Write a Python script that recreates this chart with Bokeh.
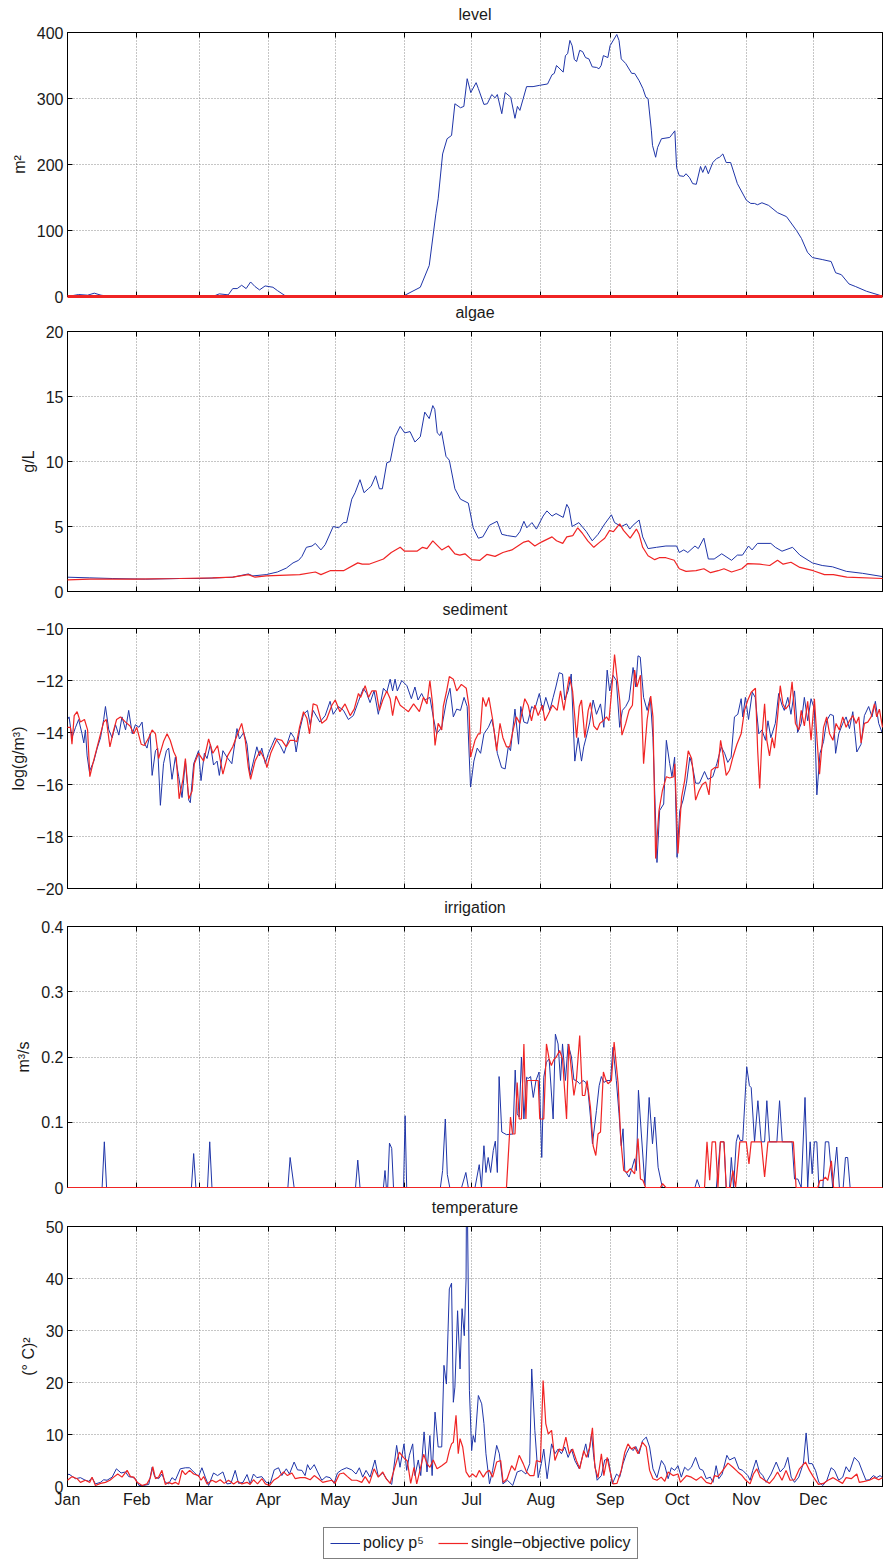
from bokeh.plotting import figure
from bokeh.layouts import column
from bokeh.models import Range1d, FixedTicker, LinearAxis, Legend, LegendItem
from bokeh.embed import file_html
from bokeh.resources import INLINE

# ---------------- data ----------------
MONTH_DAYS = [0, 31, 59, 90, 120, 151, 181, 212, 243, 273, 304, 334]
MONTH_LABELS = ["Jan", "Feb", "Mar", "Apr", "May", "Jun", "Jul", "Aug", "Sep", "Oct", "Nov", "Dec"]

LEVEL_TICKS = [0, 100, 200, 300, 400]
LEVEL_TICK_LABELS = ["0", "100", "200", "300", "400"]
ALGAE_TICKS = [0, 5, 10, 15, 20]
ALGAE_TICK_LABELS = ["0", "5", "10", "15", "20"]
SED_TICKS = [-20, -18, -16, -14, -12, -10]
SED_TICK_LABELS = ["\u221220", "\u221218", "\u221216", "\u221214", "\u221212", "\u221210"]
IRR_TICKS = [0, 0.1, 0.2, 0.3, 0.4]
IRR_TICK_LABELS = ["0", "0.1", "0.2", "0.3", "0.4"]
TEMP_TICKS = [0, 10, 20, 30, 40, 50]
TEMP_TICK_LABELS = ["0", "10", "20", "30", "40", "50"]

# (day of year, value)
LEVEL_BLUE = [(0,0),(5,3),(9,2),(12,5),(15,2),(19,0),(65,0),(68,4),(72,2.5),(74,12),(76,12),(78,17),(80,12),(82,22),
    (84,15),(86,10),(88.5,16),(92,14),(94,9),(98,0),(150,0),(158,14),(162,47),(165,126),(166,148),(168,216),(170,239),
    (172,244),(173.5,292),(176,286),(177.5,288),(179,330),(180.6,309),(183,324),(184,315),(186.5,291),(188,292),(190,306),
    (191.5,301),(192.5,306),(194.5,277),(196,309),(198.5,302),(200.4,270),(201.5,288),(202.6,282),(205.6,318),(208.5,318),
    (211.5,320),(215,322),(217,336),(218,338),(219,350),(222,340),(223,365),(224,368),(225,388),(226,380),(227,359),
    (228,356),(229.4,373),(230.7,371),(232,362),(233.5,360),(235,348),(237,347),(238,345),(239,350),(240,365),(242,362),
    (243,380),(246,397),(247,388),(248,360),(250,353),(252.7,338),(254,338),(256,327),(257.7,315),(259,302),(260,300),
    (261.5,251),(262,229),(263.4,211),(264.3,226),(266,239),(269.7,241),(272,251),(272.8,195),(274,183),(276,182),
    (277,186),(278.6,180),(280,171),(281.6,170),(283.5,197),(284.5,188),(285.7,198),(287,186),(289,203),(290.7,209),
    (292,211),(293.5,216),(295,203),(297,203),(300,171),(304,146),(306,141),(307.7,141),(309,139),(311,142),(314,138),
    (318,127),(322,121),(326.5,100),(328.7,88),(331.4,67),(333.6,59),(338,56),(342,53),(344,36),(346.6,33),(350,19),
    (353,15),(357.8,8),(363.6,2),(365,0)]
LEVEL_RED = [(0,0),(100,0),(200,0),(300,0),(365,0)]

ALGAE_BLUE = [(0,1.1),(10,1.05),(20,1.0),(35,0.95),(50,1.0),(59,1.0),(67,1.05),(74,1.1),(81,1.35),(83,1.2),(89,1.3),
    (94,1.5),(98,1.8),(101,2.2),(103.5,2.4),(105,2.7),(107,3.4),(109.5,3.5),(111,3.7),(113.5,3.2),(115.4,3.6),(119,5.0),
    (121.5,4.9),(123.6,5.3),(125,5.3),(127.3,7.1),(128.8,7.6),(131,8.6),(132.8,7.6),(134.7,7.9),(136,8.1),(138,8.9),
    (139.7,7.9),(141,7.9),(143,9.9),(144.5,10.0),(146.7,11.9),(149,12.7),(151,12.2),(153.4,12.3),(155.6,11.5),(158,11.9),
    (160,13.8),(162,13.3),(163.6,14.3),(164.5,14.0),(165.6,12.2),(166.8,12.0),(167.5,12.3),(169.5,10.4),(171,10.1),
    (173.5,7.9),(176,7.1),(179.5,6.8),(181.7,4.9),(184,4.1),(186,4.2),(189,5.1),(192.4,5.4),(194.5,4.4),(197,4.3),
    (200.8,4.2),(202.6,4.6),(204.4,5.4),(205.7,4.9),(208,5.3),(210,4.8),(213,5.8),(214.7,6.2),(217,5.8),(218.8,6.0),
    (222,5.7),(223.6,6.7),(224.6,6.4),(226,5.0),(229,5.3),(232.4,4.6),(235,3.9),(237.6,4.4),(240.6,5.2),(243.6,5.9),
    (245,5.3),(248,5.0),(250.4,5.2),(251.8,4.8),(253.3,5.1),(256,5.5),(257.6,4.2),(260,3.3),(263.8,3.4),(268,3.5),
    (272.8,3.5),(274,3.0),(276,3.2),(277.8,3.0),(281,3.5),(282.5,3.3),(285,4.1),(287,2.5),(289.6,2.5),(293,2.9),
    (297.4,2.4),(300,2.8),(302.3,2.8),(305,3.5),(306.6,3.2),(309,3.7),(315,3.7),(317,3.4),(320,3.1),(324.7,3.4),
    (328,2.8),(333.6,2.2),(338,2.0),(342.6,1.9),(348.8,1.55),(356,1.4),(365,1.15)]
ALGAE_RED = [(0,0.9),(10,0.95),(30,0.95),(50,1.0),(65,1.05),(74,1.1),(81,1.3),(84,1.1),(89,1.2),(104,1.3),(111,1.5),
    (113.5,1.3),(117.6,1.6),(123.6,1.6),(130,2.2),(132,2.1),(135,2.1),(141.5,2.5),(145,3.0),(149,3.4),(151,3.1),
    (156.5,3.1),(159,3.4),(161,3.3),(163.6,3.9),(167.6,3.2),(170.6,3.5),(173.5,2.9),(175.7,2.8),(178,2.9),(181,2.45),
    (184.7,2.4),(187.8,2.85),(191.5,2.7),(195,3.0),(199,3.2),(204.4,3.8),(206.4,3.9),(209.3,3.5),(212.2,3.8),(217,4.2),
    (219,3.9),(221.8,3.7),(223.6,4.2),(226.3,4.3),(228.5,4.9),(230.5,4.5),(233,3.9),(235.7,3.4),(238.4,3.8),(240.6,4.1),
    (242.8,4.7),(244.5,4.6),(247.3,5.2),(249,4.7),(252,4.1),(254.8,4.8),(256,4.4),(257.6,3.4),(260,2.75),(263,2.45),
    (265,2.6),(268,2.6),(271.7,2.4),(274,1.75),(277,1.55),(281.5,1.6),(285,1.75),(288,1.45),(291.4,1.6),(294,1.75),
    (297.4,1.5),(302,1.75),(304.7,2.15),(310,2.1),(314.5,2.0),(318,2.4),(320.5,2.1),(324,2.25),(328,1.85),(334,1.6),
    (339,1.3),(343,1.3),(349,1.1),(365,1.0)]

SED_BLUE = [(0,-13.5),(0.7,-13.4),(2,-14.2),(3.6,-13.8),(5,-13.5),(6.5,-14.05),(7.3,-14.4),(8,-13.9),(8.8,-14.9),
    (9.8,-15.5),(11.8,-15.1),(13.3,-14.6),(14.8,-14.2),(16.2,-13.5),(17,-13.0),(18.5,-13.9),(20,-14.2),(21.5,-13.7),
    (23,-14.1),(24.4,-13.4),(26,-13.9),(27.4,-13.15),(29,-14.05),(30.4,-13.7),(32,-13.8),(33.4,-13.6),(34.4,-14.4),
    (35.6,-14.6),(37,-14.05),(37.9,-15.65),(39.4,-14.7),(40.4,-14.6),(41.6,-16.8),(43,-15.2),(44.3,-14.7),(45.3,-14.6),
    (46.8,-15.8),(48.3,-14.95),(49.8,-15.7),(51.3,-16.5),(52.8,-15.1),(54.3,-16.6),(55,-16.7),(56.5,-15.2),(58.7,-14.7),
    (59.8,-15.85),(61.3,-14.8),(62.5,-15.0),(64,-14.45),(65.4,-15.25),(67,-15.1),(68,-15.65),(69.6,-14.7),(71.4,-14.95),
    (73.6,-15.2),(75.9,-13.85),(77,-14.25),(78.9,-14.0),(80.4,-14.45),(81.8,-15.65),(83.3,-15.1),(84.8,-14.55),
    (86,-14.9),(87,-14.6),(88.6,-15.2),(90,-14.8),(91.5,-14.5),(93,-14.2),(95.3,-14.5),(97,-14.8),(98.5,-14.4),
    (100,-14.0),(101.5,-14.2),(102.4,-14.75),(104,-13.9),(105.7,-13.3),(107.5,-13.15),(108.7,-13.7),(110,-13.15),
    (111.7,-13.4),(113,-13.6),(115.4,-13.35),(117.6,-12.8),(119,-13.3),(121.3,-13.0),(123.6,-13.15),(125.8,-13.5),
    (128,-13.35),(130.3,-12.8),(132.5,-12.3),(134,-12.5),(135.5,-12.85),(137.3,-12.4),(139.2,-13.3),(141.5,-12.3),
    (143,-12.45),(144.5,-11.95),(145.6,-12.4),(146.7,-11.95),(147.7,-12.4),(149.7,-12.0),(152,-12.2),(154,-12.7),
    (155.6,-12.25),(157,-12.75),(158.6,-12.5),(160,-12.75),(162.3,-12.65),(163.8,-13.4),(165.3,-14.05),(167.6,-13.8),
    (169.8,-12.75),(171.3,-12.3),(172.8,-13.4),(174.3,-13.1),(176,-13.15),(177.6,-12.65),(179,-13.0),(180.5,-16.1),
    (182,-15.1),(183.5,-14.6),(185,-14.8),(186.5,-14.05),(188.5,-13.8),(190,-13.5),(191,-13.9),(192.5,-14.8),
    (194.4,-15.35),(196,-15.4),(197.4,-14.55),(198.4,-14.7),(200.4,-13.1),(202,-14.45),(203,-13.0),(204.4,-13.6),
    (206,-13.65),(207.9,-13.0),(209.3,-13.1),(211.3,-12.5),(212.8,-13.15),(214.2,-12.65),(216,-13.15),(217.5,-12.65),
    (218.7,-12.25),(220.2,-11.7),(221.7,-11.75),(222.7,-12.75),(224.2,-12.4),(225.6,-11.75),(227.2,-15.1),(228.7,-14.2),
    (230.2,-15.1),(231.2,-14.55),(232.7,-14.05),(233.9,-13.6),(235.4,-12.75),(236.9,-13.3),(238.7,-12.9),(240.2,-13.8),
    (241.7,-11.6),(242.8,-12.4),(244.3,-11.8),(245.8,-12.0),(247.3,-13.8),(248.5,-13.15),(250,-13.0),(251.5,-12.75),
    (253.3,-11.5),(254.5,-12.25),(255.5,-11.05),(256.5,-11.1),(258,-12.65),(259.6,-13.15),(261,-12.65),(262.2,-14.2),
    (264,-19.0),(265.2,-17.0),(267,-16.75),(268.2,-14.3),(269.7,-15.2),(270.7,-15.7),(271.9,-14.95),(273,-18.8),
    (274.2,-17.0),(275.7,-16.6),(277.2,-15.95),(278.7,-14.95),(279.8,-15.25),(281.3,-15.95),(283,-15.95),(285.3,-15.5),
    (286.8,-15.8),(289,-15.7),(290.8,-15.2),(292.8,-14.55),(294.3,-14.8),(295.7,-15.15),(297.2,-14.95),(298.7,-13.4),
    (300.2,-13.3),(301.7,-12.7),(302.4,-13.4),(303.6,-12.65),(305,-13.5),(306.7,-12.45),(308,-12.65),(309.6,-14.05),
    (311,-13.9),(312.6,-14.3),(313.7,-13.55),(315,-14.2),(317,-13.65),(318.5,-12.5),(320,-12.95),(321,-13.15),
    (322.6,-12.65),(324,-13.3),(325.6,-12.4),(327,-14.0),(328.6,-13.65),(330,-12.65),(331.5,-13.55),(333,-12.7),
    (334.5,-13.1),(335.6,-16.4),(337,-14.8),(338.6,-14.35),(340,-13.55),(341.6,-13.3),(343,-13.35),(344,-14.8),
    (345.4,-14.05),(347.2,-13.65),(348.7,-13.4),(350.2,-13.85),(351.7,-13.2),(353.5,-14.75),(355.4,-14.45),
    (356.9,-13.35),(358.8,-13.0),(360.3,-13.4),(361.8,-12.8),(363.3,-13.65),(365,-14.05)]
SED_RED = [(0,-13.8),(1.3,-13.8),(2,-14.45),(3,-13.35),(4.3,-13.2),(5.8,-13.6),(7.6,-13.5),(9,-13.9),(10,-15.7),
    (11.5,-15.15),(13.3,-14.55),(14.8,-14.05),(16.2,-13.6),(17.4,-13.5),(19,-14.55),(20.7,-13.9),(22,-13.5),
    (23.7,-13.4),(26,-13.6),(28,-13.75),(29.7,-14.05),(31,-13.8),(33,-14.45),(34.4,-14.5),(36.4,-14.2),(37.9,-13.9),
    (39.4,-14.05),(40.8,-15.0),(43,-14.35),(44.6,-14.05),(46,-14.3),(47.6,-14.75),(48.7,-14.95),(50,-16.55),
    (51.7,-15.8),(52.8,-15.0),(54.3,-16.55),(55.8,-16.25),(56.8,-15.2),(58.7,-14.8),(61,-15.1),(63.2,-14.25),
    (65.1,-14.8),(67.2,-14.5),(69.6,-15.6),(71.7,-14.9),(74,-14.55),(76.2,-14.05),(78,-13.65),(79.6,-14.3),(81,-15.35),
    (82,-15.8),(84,-15.1),(86.3,-14.7),(88.6,-15.1),(89.3,-15.35),(91,-14.8),(93.8,-14.25),(96,-14.3),(98,-14.55),
    (99.7,-14.3),(101.2,-14.3),(102.7,-14.35),(103.9,-13.8),(105.7,-13.2),(107.2,-13.45),(108.4,-14.05),(110,-12.9),
    (111.7,-12.95),(113.9,-13.65),(116,-13.5),(118.4,-12.95),(119.9,-12.75),(122,-13.2),(124.3,-12.9),(126.6,-13.35),
    (128.4,-13.1),(130.3,-12.5),(131.3,-12.65),(133.3,-12.2),(134.8,-12.65),(136.3,-12.4),(138.2,-12.4),(139.7,-13.15),
    (141.2,-12.75),(143,-12.4),(144.5,-12.7),(145.6,-13.35),(147.1,-12.6),(149,-12.95),(151.2,-13.1),(152.7,-13.2),
    (155,-12.9),(157.6,-13.2),(159.4,-12.65),(161,-12.9),(162.3,-12.0),(163.5,-12.9),(164.6,-14.5),(166,-13.65),
    (167.6,-13.9),(168.3,-13.0),(169.8,-12.4),(171,-11.85),(172.8,-11.95),(174.3,-12.4),(176.4,-12.15),(178.6,-12.3),
    (179.8,-13.0),(180.5,-14.95),(182.5,-14.3),(184,-14.05),(184.8,-14.05),(186,-12.65),(187.4,-13.0),(188.7,-12.65),
    (190.4,-13.5),(192.2,-14.7),(193.7,-13.65),(195,-14.2),(196.6,-14.55),(198,-14.55),(199.6,-13.9),(201,-13.4),
    (202.6,-13.65),(204.8,-12.7),(206.3,-12.95),(207.8,-13.55),(209.3,-12.95),(210.8,-13.35),(212.7,-12.95),
    (213.8,-13.55),(215.3,-13.3),(217.2,-12.95),(219.3,-13.15),(220.8,-12.4),(222.3,-13.15),(223.5,-12.5),
    (224.7,-11.85),(226.2,-12.4),(228,-14.2),(229.2,-13.0),(230.2,-12.75),(231.7,-14.2),(233.2,-13.15),(234.2,-12.85),
    (235.7,-13.75),(237.2,-13.9),(238.4,-13.65),(239.9,-13.55),(241.4,-13.4),(242.5,-13.55),(243.6,-12.5),(245,-11.0),
    (246,-11.8),(247.3,-12.75),(248.3,-14.1),(250,-13.65),(251.5,-13.15),(253,-12.95),(254,-11.6),(255,-12.25),
    (256.6,-11.8),(258,-15.2),(259.6,-13.5),(261.2,-12.6),(262.2,-13.4),(263.4,-18.85),(264.9,-17.0),(266.4,-16.25),
    (268.2,-15.7),(269.7,-15.75),(271.5,-15.7),(272,-15.2),(273.4,-18.65),(275,-16.5),(276.4,-15.85),(278,-14.7),
    (279.5,-15.0),(280.3,-15.6),(281.3,-16.6),(282.8,-16.25),(284.3,-16.0),(285.8,-15.9),(287.3,-16.4),(288.3,-15.45),
    (289.8,-15.35),(291.3,-15.35),(292.5,-14.3),(293.8,-14.95),(295,-15.65),(296.5,-15.45),(298,-14.95),(299.8,-14.45),
    (301.7,-14.05),(303.2,-13.15),(304.7,-12.75),(306.2,-12.45),(308.1,-12.3),(309.1,-14.7),(310,-16.15),(311.1,-14.05),
    (312.2,-12.9),(313.2,-14.3),(314.4,-14.9),(315.6,-14.2),(316.6,-14.6),(318,-13.4),(319.2,-12.2),(320.4,-12.9),
    (321.6,-13.1),(323.4,-12.9),(324.5,-12.05),(326,-13.65),(327.5,-13.9),(328.6,-13.15),(330,-13.75),(331.5,-12.8),
    (333,-14.3),(334.5,-12.7),(335.7,-14.3),(336.8,-15.6),(338.6,-13.8),(340,-13.4),(341.3,-14.05),(342.8,-14.3),
    (344.2,-13.65),(345.7,-13.9),(347.2,-13.4),(348.7,-13.8),(350.2,-13.55),(351.7,-13.35),(353.2,-13.65),(354.4,-13.4),
    (355.4,-14.4),(356.9,-13.65),(358.4,-13.6),(359.9,-13.4),(361.4,-12.9),(362.4,-13.4),(363.6,-13.1),(365,-13.8)]

IRR_BLUE = [(0,0),(15.5,0),(16.5,0.07),(17.5,0),(55.5,0),(56.5,0.052),(57.5,0),(62.7,0),(63.7,0.07),(64.7,0),
    (98.7,0),(99.7,0.046),(101.5,0),(129,0),(130,0.042),(131,0),(141.5,0),(142.2,0.026),(142.8,0),(143.4,0),
    (144.2,0.068),(145.2,0.06),(146,0),(150.5,0),(151.2,0.11),(151.9,0),(167,0),(168,0.026),(169.2,0.105),(170.1,0.02),
    (171.2,0),(176.5,0),(178.4,0.023),(179.5,0),(182.5,0),(184.4,0.035),(185.4,0),(186.5,0.064),(187.4,0.023),
    (188.4,0.046),(189.5,0.023),(190.7,0.057),(191.6,0.071),(192.5,0.023),(193.3,0.17),(194.5,0.085),(196.6,0.081),
    (199.5,0.082),(200.5,0.18),(201.4,0.113),(202.3,0.108),(203.3,0.2),(204.4,0.105),(205.6,0.169),(206.3,0.167),
    (207.4,0.17),(208.6,0.138),(209.8,0.164),(211.2,0.177),(212.4,0.046),(213.3,0.169),(214.5,0.192),(215.7,0.197),
    (217.5,0.105),(218.5,0.235),(219.7,0.22),(220.8,0.164),(221.7,0.22),(223,0.164),(224.2,0.22),(225.7,0.2),
    (226.8,0.165),(227.9,0.164),(229.4,0.159),(230.9,0.164),(232.1,0.161),(233.1,0.149),(234.2,0.108),(235.1,0.067),
    (236.9,0.118),(238.1,0.156),(239.1,0.17),(240.2,0.161),(241.6,0.164),(243.2,0.164),(244.3,0.215),(245.8,0.164),
    (247,0.113),(248,0.064),(248.8,0.09),(249.6,0.026),(251.5,0.016),(252.5,0.026),(254,0.044),(254.8,0.026),
    (255.7,0.149),(257,0.082),(258.6,0.003),(260.5,0.138),(262,0.067),(263,0.108),(264.5,0.031),(266.4,0),(281,0),
    (282,0.012),(283.2,0),(290.6,0),(292.4,0.07),(294,0.07),(295,0),(296.5,0),(297.3,0.046),(298.3,0),(299.5,0.07),
    (300.3,0.081),(301.3,0.072),(302.4,0.072),(304.2,0.185),(305.4,0.156),(306.2,0.153),(307.7,0.07),(309.2,0.133),
    (310.7,0.07),(312.2,0.07),(313.2,0.133),(314.4,0.07),(317.7,0.07),(318.9,0.133),(320.1,0.07),(324.5,0.07),
    (325.6,0.013),(327.1,0.013),(328.6,0),(330.3,0.138),(331.5,0),(332.6,0.07),(333.5,0.021),(334.5,0.07),(335.6,0.07),
    (336.5,0),(338.3,0),(339.4,0.07),(340.9,0.07),(342.7,0),(344.5,0.062),(345.7,0),(347.4,0),(348.4,0.046),
    (349.4,0.046),(350.5,0),(365,0)]
IRR_RED = [(0,0),(196.6,0),(198.4,0.108),(199.3,0.082),(200.4,0.082),(201.4,0.161),(202.3,0.105),(203.3,0.105),
    (204.4,0.22),(205.3,0.105),(205.9,0.164),(210.8,0.164),(211.5,0.105),(213.3,0.105),(214.5,0.22),(215.7,0.197),
    (216.7,0.187),(217.8,0.196),(218.9,0.2),(220.4,0.21),(221.7,0.197),(223.5,0.105),(224.5,0.22),(225.7,0.179),
    (226.8,0.141),(227.9,0.164),(229.4,0.233),(230.6,0.141),(231.7,0.141),(232.7,0.164),(234.2,0.123),(235.4,0.064),
    (236.6,0.049),(237.6,0.082),(238.7,0.085),(240,0.177),(241.1,0.165),(242.1,0.159),(243.6,0.164),(244.8,0.223),
    (246.6,0.159),(247.8,0.072),(249.1,0.026),(250.6,0.023),(252.1,0.029),(254,0.021),(255.5,0.075),(256.6,0.013),
    (257.7,0.011),(258.9,0),(265.5,0),(266.5,0.006),(268,0),(285.3,0),(286.4,0.07),(287.6,0.011),(288.7,0.07),
    (290.2,0.07),(291.3,0),(292.4,0.07),(294,0.07),(295,0),(296.8,0),(298,0.026),(299.2,0),(301.1,0.07),(304,0.07),
    (305.2,0.036),(306.2,0.07),(310.7,0.07),(312.2,0.016),(313.7,0.07),(325.1,0.07),(326.3,0),(336,0),(337,0.011),
    (338.2,0.011),(339.4,0.016),(340.5,0.011),(342.1,0.041),(343.1,0),(365,0)]

TEMP_BLUE = [(0,2.1),(0.6,2.4),(3.6,1.5),(5.8,1.7),(8,1.2),(9.5,1.0),(11,1.7),(12.5,0.5),(14.8,0.8),(16.2,1.3),
    (17.7,1.2),(20,1.8),(21.9,3.4),(24,2.6),(26,2.8),(27.4,1.9),(29,1.8),(30.4,1.5),(32,0.2),(34,0.2),(36.4,0.4),
    (37.9,3.7),(39,1.9),(40.8,1.5),(42.3,2.4),(43.8,0.8),(45.3,0.5),(46.8,1.7),(48.3,1.2),(50.5,3.4),(52.8,3.6),
    (54.7,3.6),(56.5,2.8),(58.7,1.9),(60.2,3.6),(61.7,1.8),(63.2,0.2),(65.4,2.6),(67.2,2.1),(69.6,2.8),(71.4,0.5),
    (73.2,0.6),(75.1,3.1),(76.6,0.6),(78.6,0.8),(80.4,2.3),(81.8,0.5),(83.3,2.4),(84.8,1.7),(87,1.9),(89,0.8),
    (90.8,0.6),(92.6,3.2),(94.5,3.6),(96,2.1),(98,3.4),(99.4,2.4),(101.5,4.7),(103,3.2),(105,3.1),(106.4,2.1),
    (107.5,4.2),(108.7,3.2),(110.5,4.2),(112,2.8),(113.9,1.2),(115.8,1.9),(117.6,1.7),(119.4,0.6),(120.9,2.6),
    (122.8,3.2),(125,3.6),(127.3,3.2),(129.2,2.4),(130.7,3.6),(132.2,1.8),(133.7,3.1),(135.5,1.8),(137.7,5.1),
    (139.2,1.9),(141.2,2.6),(143.3,1.2),(145.2,0.4),(147.4,7.9),(148.9,3.7),(150.7,8.2),(151.9,3.1),(153.1,6.0),
    (154.6,8.2),(155.6,2.1),(157.1,5.1),(158.2,2.1),(159.7,10.5),(161,2.8),(162.3,9.8),(163.3,2.1),(164.6,14.3),
    (166,7.6),(167.6,7.6),(168.6,23.3),(169.7,19.7),(171,38.0),(172,39.1),(172.8,16.2),(173.5,19.1),(174.7,33.8),
    (175.8,22.6),(176.7,34.2),(177.7,29.0),(178.5,39.9),(178.8,65.0),(180,18.5),(181,6.9),(181.7,9.8),(182.5,8.5),
    (184,17.5),(185.5,15.9),(186.5,12.1),(187.4,6.3),(189,0.5),(190.4,3.1),(192.2,7.9),(193.4,6.3),(195,0.5),(197,1.2),
    (199.4,0.2),(201.4,2.8),(203.3,3.1),(205.3,2.4),(207,4.4),(207.9,22.6),(209.3,10.8),(210.8,1.7),(212.2,4.4),
    (213.3,7.2),(214.8,1.5),(216.8,8.2),(218.3,6.3),(219.7,7.2),(221.2,6.3),(222.7,7.6),(224.2,5.6),(225.7,7.2),
    (227.2,5.0),(229.2,3.4),(231,6.3),(232.1,8.2),(233.2,5.6),(234.7,10.1),(235.7,5.6),(237.2,1.2),(239.1,2.1),
    (240.6,5.1),(242.2,5.3),(244,0.5),(245.9,2.4),(247.3,1.8),(248.8,4.4),(250.3,6.3),(251.8,7.6),(253.3,6.9),
    (254.5,7.7),(256,6.3),(257.5,8.8),(259.2,9.5),(260.7,7.6),(262.2,3.4),(264,1.7),(266,5.0),(267.5,4.0),(269,1.5),
    (270.4,3.6),(271.9,3.1),(273.4,4.0),(274.9,1.8),(276.4,3.7),(277.9,3.1),(279.4,3.7),(281.3,5.6),(283.1,3.4),
    (284.6,3.1),(286.1,1.5),(287.9,1.8),(289.1,0.8),(290.5,4.0),(291.7,1.5),(293.2,2.4),(295.3,6.0),(296.5,5.1),
    (298.8,5.6),(300.7,3.4),(302.4,3.1),(304.7,2.1),(305.7,1.2),(306.9,3.1),(308.4,5.1),(309.9,2.8),(311.4,2.1),
    (312.9,0.8),(315.1,2.4),(317.4,4.7),(319.2,2.8),(321.1,3.7),(322.6,5.6),(324.1,1.8),(325.6,0.8),(327.5,1.8),
    (329.6,4.5),(330.8,10.3),(332,4.4),(333.5,4.4),(335,3.1),(336.5,0.8),(338.3,0.2),(340.1,1.2),(342,3.6),(343.5,3.1),
    (345.4,1.2),(347.2,1.8),(348.7,3.8),(350.2,2.8),(352.4,5.6),(354.4,4.7),(356.1,2.8),(357.6,1.2),(359.1,1.3),
    (360.9,2.1),(362.4,1.7),(363.9,2.1),(365,1.7)]
TEMP_RED = [(0,1.2),(2,1.9),(4.3,1.5),(5.8,0.8),(8,1.2),(10,0.8),(11,1.8),(12.5,0.2),(14.8,0.6),(17,0.8),(19,1.2),
    (20.7,1.8),(22.5,2.4),(24.4,1.8),(26.7,3.1),(28.2,1.9),(29.7,1.8),(31.2,0.8),(33.4,0.2),(35.6,0.5),(37.1,1.7),
    (38.2,3.8),(39.4,1.5),(40.8,1.8),(42.3,3.1),(43.8,0.4),(45.3,0.8),(46.8,0.5),(48.3,0.8),(49.8,0.4),(51.3,3.1),
    (52.8,2.3),(54.7,3.1),(56.5,2.4),(58.7,2.1),(59.8,1.2),(61,1.9),(62.5,0.5),(64.7,1.2),(66.6,0.8),(68.4,1.3),
    (70.2,0.6),(72.1,1.2),(74.4,0.5),(76.2,1.0),(78.1,0.5),(80.4,0.8),(81.8,0.4),(83.3,1.3),(85.1,0.5),(87.1,1.5),
    (88.6,0.5),(90.5,0.2),(92.3,1.2),(94.5,1.8),(96.8,2.8),(98.5,2.1),(100.5,2.6),(102,1.5),(104.2,1.7),(106.4,1.7),
    (108.7,1.3),(110.5,2.1),(112.4,1.5),(114.3,0.8),(116.1,1.0),(118.4,1.2),(119.8,0.6),(121.8,2.4),(123.6,2.6),
    (125.4,1.9),(127.3,1.2),(129.5,1.2),(131.8,0.8),(133.3,1.9),(135.2,0.6),(137.3,3.4),(139.2,1.8),(141.2,2.8),
    (142.7,1.5),(144.5,0.6),(146.2,3.1),(148.6,6.6),(150.4,5.6),(152.2,4.9),(153.7,0.6),(155.2,3.7),(156.4,0.5),
    (157.9,3.2),(159.5,6.2),(161,4.4),(162.3,3.7),(163.8,5.1),(165.5,3.4),(167.6,4.0),(169.8,4.7),(171,6.9),(172,8.2),
    (172.8,8.5),(174,13.7),(175,6.3),(175.8,9.2),(177,7.6),(178.5,2.8),(180,1.8),(181.4,2.4),(183,1.8),(184.4,3.1),
    (186.2,1.8),(187.7,2.8),(188.9,3.1),(190.4,1.8),(192.2,4.7),(194,5.0),(195.1,0.8),(196.9,1.5),(198.9,4.0),
    (200.4,3.1),(202.3,6.0),(204.1,4.4),(205.6,2.8),(207.1,2.1),(208.9,2.1),(210,5.0),(211.8,4.7),(213,20.4),
    (214.2,12.1),(215.3,10.1),(216.8,10.8),(218.3,5.0),(220.2,7.2),(221.7,6.9),(223.2,9.5),(224.7,6.3),(226.2,7.2),
    (227.9,5.0),(229.4,3.4),(231.2,6.9),(232.4,5.6),(233.9,7.6),(235.1,11.3),(236.2,3.7),(237.6,1.7),(239.1,6.3),
    (240.2,2.1),(241.7,5.6),(242.9,3.1),(244.3,0.5),(246.1,0.6),(248,3.1),(249.6,6.6),(251,8.2),(252.6,7.2),(254,7.6),
    (255.5,6.3),(257.5,8.5),(259.2,7.6),(260.7,3.1),(262.2,1.5),(264,1.2),(265.9,1.8),(267.5,1.0),(269,2.8),
    (271.2,2.1),(273.4,2.4),(274.5,0.8),(277.2,2.1),(279.4,1.8),(281.6,1.2),(283.8,1.9),(286.1,0.8),(288.3,0.5),
    (289.8,2.1),(291.3,1.9),(293.5,3.1),(295.8,4.5),(298,3.7),(300.2,2.8),(302.1,2.1),(303.8,1.2),(305.7,0.5),
    (307.2,2.4),(308.7,3.4),(310.2,1.8),(312.2,1.2),(314.4,0.6),(316.2,1.5),(318,2.8),(320,1.2),(321.8,3.1),
    (323.6,1.2),(325.6,1.3),(327.8,3.4),(330.5,4.7),(332.3,3.1),(334.1,1.8),(336.3,0.4),(338.5,0.6),(340.6,1.2),
    (342.9,1.7),(344.7,1.2),(347.1,0.6),(348.7,1.7),(351,1.5),(353.5,2.4),(354.6,0.8),(356.9,1.0),(359.1,1.2),
    (361.4,1.7),(363.3,1.3),(365,1.7)]

SERIES_NAMES = ["policy p\u2075", "single\u2212objective policy"]
PANEL_TITLES = ["level", "algae", "sediment", "irrigation", "temperature"]

# ---------------- style ----------------
FONT = "Liberation Sans"
BLUE = "#1f35a8"
RED = "#f02424"
TXT = "#1a1a1a"
FS = "16px"


def unzip(pairs):
    return [a for a, _ in pairs], [b for _, b in pairs]


def style_axis(ax, ticks, labels=None, show=True):
    ax.ticker = FixedTicker(ticks=ticks)
    ax.major_tick_in = 5
    ax.major_tick_out = 0
    ax.minor_tick_line_color = None
    ax.axis_line_color = "black"
    ax.major_tick_line_color = "black"
    if show and labels is not None:
        ax.major_label_overrides = {t: l for t, l in zip(ticks, labels)}
        ax.major_label_text_font = FONT
        ax.major_label_text_font_size = FS
        ax.major_label_text_color = TXT
        ax.major_label_standoff = 4
    else:
        ax.major_label_overrides = {t: "" for t in ticks}
        ax.major_label_text_font_size = "0px"
        ax.major_label_standoff = 0


def title_on_axis(ax, text, standoff):
    # panel titles are carried by the frame's horizontal axes, centred on the plot area
    ax.axis_label = text
    ax.axis_label_text_font = FONT
    ax.axis_label_text_font_size = FS
    ax.axis_label_text_font_style = "normal"
    ax.axis_label_text_color = TXT
    ax.axis_label_standoff = standoff


def panel(ylabel, yr, yticks, ylabels, blue, red, frame_h, top, bottom, top_title=None, below_title=None,
          below_standoff=8, red_width=1.2, last=False):
    p = figure(frame_width=815, frame_height=frame_h, x_range=Range1d(0, 365), y_range=Range1d(*yr),
               output_backend="svg", toolbar_location=None, min_border_left=67, min_border_right=1,
               min_border_top=top, min_border_bottom=bottom, background_fill_color="white",
               border_fill_color="white")
    p.outline_line_color = "black"
    p.outline_line_alpha = 1

    bottom_ax = p.below[0]
    left_ax = p.left[0]
    style_axis(bottom_ax, MONTH_DAYS, MONTH_LABELS, show=last)
    style_axis(left_ax, yticks, ylabels, show=True)
    left_ax.axis_label = ylabel
    left_ax.axis_label_text_font = FONT
    left_ax.axis_label_text_font_size = FS
    left_ax.axis_label_text_font_style = "normal"
    left_ax.axis_label_text_color = TXT
    left_ax.axis_label_standoff = 6

    top_ax = LinearAxis()
    style_axis(top_ax, MONTH_DAYS, show=False)
    p.add_layout(top_ax, "above")
    right_ax = LinearAxis()
    style_axis(right_ax, yticks, show=False)
    p.add_layout(right_ax, "right")
    if top_title is not None:
        title_on_axis(top_ax, top_title, 10)
    if below_title is not None:
        title_on_axis(bottom_ax, below_title, below_standoff)

    for g, tk in ((p.xgrid[0], MONTH_DAYS), (p.ygrid[0], yticks)):
        g.ticker = FixedTicker(ticks=tk)
        g.grid_line_color = "#8c8c8c"
        g.grid_line_dash = "1 2"
        g.grid_line_width = 1

    bx, by = unzip(blue)
    rx, ry = unzip(red)
    rb = p.line(bx, by, line_color=BLUE, line_width=1)
    rr = p.line(rx, ry, line_color=RED, line_width=red_width, level="overlay")
    return p, rb, rr


p1, _, _ = panel("m\u00b2", (0, 400), LEVEL_TICKS, LEVEL_TICK_LABELS, LEVEL_BLUE, LEVEL_RED, 264, 32, 27,
                 top_title=PANEL_TITLES[0], below_title=PANEL_TITLES[1], below_standoff=7, red_width=3)
p2, _, _ = panel("g/L", (0, 20), ALGAE_TICKS, ALGAE_TICK_LABELS, ALGAE_BLUE, ALGAE_RED, 260, 8, 29,
                 below_title=PANEL_TITLES[2], below_standoff=9)
p3, _, _ = panel("log(g/m\u00b3)", (-20, -10), SED_TICKS, SED_TICK_LABELS, SED_BLUE, SED_RED, 260, 8, 30,
                 below_title=PANEL_TITLES[3], below_standoff=10)
p4, _, _ = panel("m\u00b3/s", (0, 0.4), IRR_TICKS, IRR_TICK_LABELS, IRR_BLUE, IRR_RED, 261, 8, 31,
                 below_title=PANEL_TITLES[4], below_standoff=11)
p5, _, _ = panel("(\u00b0 C)\u00b2", (0, 50), TEMP_TICKS, TEMP_TICK_LABELS, TEMP_BLUE, TEMP_RED,
                 260, 8, 30, last=True)

# legend strip below the last panel (its own lines lie outside its empty y window)
pl = figure(frame_width=815, frame_height=44, x_range=Range1d(0, 365), y_range=Range1d(1000, 1001),
            output_backend="svg", toolbar_location=None, min_border_left=67, min_border_right=1,
            min_border_top=0, min_border_bottom=0, x_axis_location=None, y_axis_location=None,
            background_fill_color="white", border_fill_color="white")
pl.outline_line_color = None
pl.xgrid.visible = False
pl.ygrid.visible = False
lbx, lby = unzip(TEMP_BLUE)
lrx, lry = unzip(TEMP_RED)
lb = pl.line(lbx, lby, line_color=BLUE, line_width=1)
lr = pl.line(lrx, lry, line_color=RED, line_width=1.2)
legend = Legend(items=[LegendItem(label=SERIES_NAMES[0], renderers=[lb]),
                       LegendItem(label=SERIES_NAMES[1], renderers=[lr])],
                location=(256, 1), orientation="horizontal")
legend.label_text_font = FONT
legend.label_text_font_size = FS
legend.label_text_color = TXT
legend.border_line_color = "black"
legend.border_line_width = 1
legend.background_fill_color = "white"
legend.background_fill_alpha = 1
legend.glyph_width = 30
legend.glyph_height = 18
legend.label_height = 18
legend.label_standoff = 3
legend.spacing = 14
legend.padding = 6
legend.margin = 0
pl.add_layout(legend)

layout = column(p1, p2, p3, p4, p5, pl, spacing=0)
open("out.html", "w").write(file_html(layout, INLINE))
